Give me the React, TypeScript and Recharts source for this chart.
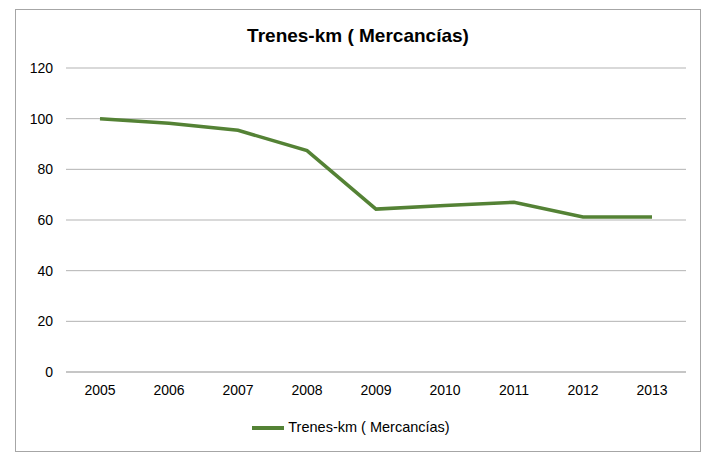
import React from "react";
import { LineChart, Line, XAxis, YAxis, CartesianGrid, Legend } from "recharts";

const years = ["2005", "2006", "2007", "2008", "2009", "2010", "2011", "2012", "2013"];
const trenesKm = [100, 98.2, 95.4, 87.4, 64.3, 65.7, 67.0, 61.2, 61.2];
const yTicks = [0, 20, 40, 60, 80, 100, 120];

const SERIES = "Trenes-km ( Mercancías)";
const GREEN = "#548235";
const GRID = "#b3b3b3";
const FONT = "'Liberation Sans', Arial, sans-serif";

const data = years.map((y, i) => ({ year: y, value: trenesKm[i] }));

export default function App() {
  return (
    <div
      style={{
        position: "relative",
        width: 684,
        height: 441,
        marginLeft: 7,
        marginTop: 1,
        border: "1px solid #a6a6a6",
        background: "#fff",
        fontFamily: FONT,
      }}
    >
      <div
        style={{
          position: "absolute",
          top: 15,
          left: 0,
          width: "100%",
          textAlign: "center",
          fontSize: 19,
          fontWeight: "bold",
          color: "#000",
        }}
      >
        {SERIES}
      </div>
      <LineChart
        width={684}
        height={441}
        data={data}
        margin={{ top: 58, right: 14, left: 10, bottom: 17 }}
      >
        <CartesianGrid horizontal vertical={false} stroke={GRID} />
        <XAxis
          dataKey="year"
          tickLine={false}
          axisLine={{ stroke: GRID }}
          padding={{ left: 34, right: 34 }}
          tickSize={0}
          tickMargin={13}
          tick={{ fontSize: 14, fill: "#000", fontFamily: FONT }}
        />
        <YAxis
          domain={[0, 120]}
          ticks={yTicks}
          width={40}
          axisLine={false}
          tickLine={false}
          tickSize={0}
          tickMargin={13}
          tick={{ fontSize: 14, fill: "#000", fontFamily: FONT }}
        />
        <Legend
          verticalAlign="bottom"
          iconType="plainline"
          iconSize={32}
          wrapperStyle={{ bottom: 7, fontSize: 14.5, fontFamily: FONT }}
          formatter={(v: string) => <span style={{ color: "#000" }}>{v}</span>}
        />
        <Line
          name={SERIES}
          dataKey="value"
          stroke={GREEN}
          strokeWidth={3.5}
          dot={false}
          isAnimationActive={false}
        />
      </LineChart>
    </div>
  );
}
